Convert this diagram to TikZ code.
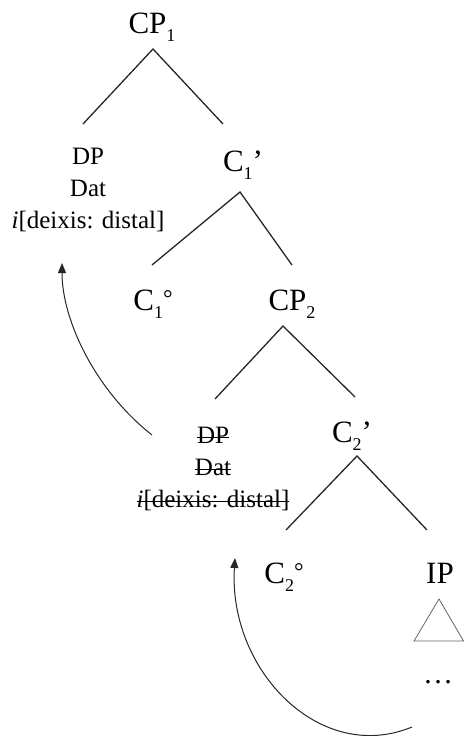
\documentclass[tikz,border=0pt]{standalone}
\usepackage{fontspec}
\setmainfont{Liberation Serif}
\usetikzlibrary{arrows.meta}
\newsavebox\strkbox
\newcommand\strk[1]{\sbox\strkbox{#1}\rlap{\usebox\strkbox}\rule[5.5pt]{\wd\strkbox}{0.9pt}}
\newcommand\mysub[1]{\raisebox{-8pt}{\fontsize{18}{18}\selectfont #1}}
\newcommand\mydeg{\raisebox{4pt}{\fontsize{24}{24}\selectfont °}}
\begin{document}
\begin{tikzpicture}[x=1pt,y=-1pt,
  lab/.style={font=\fontsize{31}{36}\selectfont, inner sep=0pt, anchor=base},
  blk/.style={font=\fontsize{25}{32}\selectfont, inner sep=0pt, anchor=base},
  branch/.style={line width=1.3pt, draw=black!85},
  mv/.style={line width=1pt, draw=black!85, -{Triangle[length=10pt,width=8pt]}},
  tri/.style={line width=0.8pt, draw=black!60}]
\useasboundingbox (0,0) rectangle (465,736);
% labels
\node[lab] (cp1) at (152,33) {CP\mysub{1}};
\node[lab] (c1bar) at (243,171) {C\mysub{1}’};
\node[lab] (c1head) at (153,310) {C\mysub{1}\mydeg};
\node[lab] (cp2) at (292,310) {CP\mysub{2}};
\node[lab] (c2bar) at (352,442) {C\mysub{2}’};
\node[lab] (c2head) at (284,583) {C\mysub{2}\mydeg};
\node[lab] (ip) at (440,583) {IP};
\node[blk] (dp1) at (88,164) {\begin{tabular}[t]{@{}c@{}}DP\\Dat\\\textit{i}[deixis: distal]\end{tabular}};
\node[blk] (dp2) at (213,443) {\begin{tabular}[t]{@{}c@{}}\strk{DP}\\\strk{Dat}\\\strk{\textit{i}[deixis: distal]}\end{tabular}};
\node[font=\fontsize{30}{36}\selectfont, inner sep=0pt, anchor=base] (dots) at (438,683) {…};
% branch points
\coordinate (cp1a) at (153,49);
\coordinate (dp1t) at (83,124);
\coordinate (c1bart) at (223,124);
\coordinate (c1bara) at (240,192);
\coordinate (c1headt) at (152,265);
\coordinate (cp2t) at (292,265);
\coordinate (cp2a) at (283,326);
\coordinate (dp2t) at (215,399);
\coordinate (c2bart) at (355,397);
\coordinate (c2bara) at (357,456);
\coordinate (c2headt) at (286,530);
\coordinate (ipt) at (427,530);
\draw[branch] (dp1t) -- (cp1a) -- (c1bart);
\draw[branch] (c1headt) -- (c1bara) -- (cp2t);
\draw[branch] (dp2t) -- (cp2a) -- (c2bart);
\draw[branch] (c2headt) -- (c2bara) -- (ipt);
% triangle under IP
\coordinate (triA) at (439,599);
\coordinate (triL) at (414,641);
\coordinate (triR) at (463.5,641);
\draw[tri] (triA) -- (triL) -- (triR) -- cycle;
% movement arrows
\coordinate (m1s) at (152,435);
\coordinate (m1e) at (62,263);
\draw[mv] (m1s) .. controls (95,390) and (62,320) .. (m1e);
\coordinate (m2s) at (412,727);
\coordinate (m2e) at (235,558);
\draw[mv] (m2s) .. controls (320,765) and (228,670) .. (m2e);
\end{tikzpicture}
\end{document}
